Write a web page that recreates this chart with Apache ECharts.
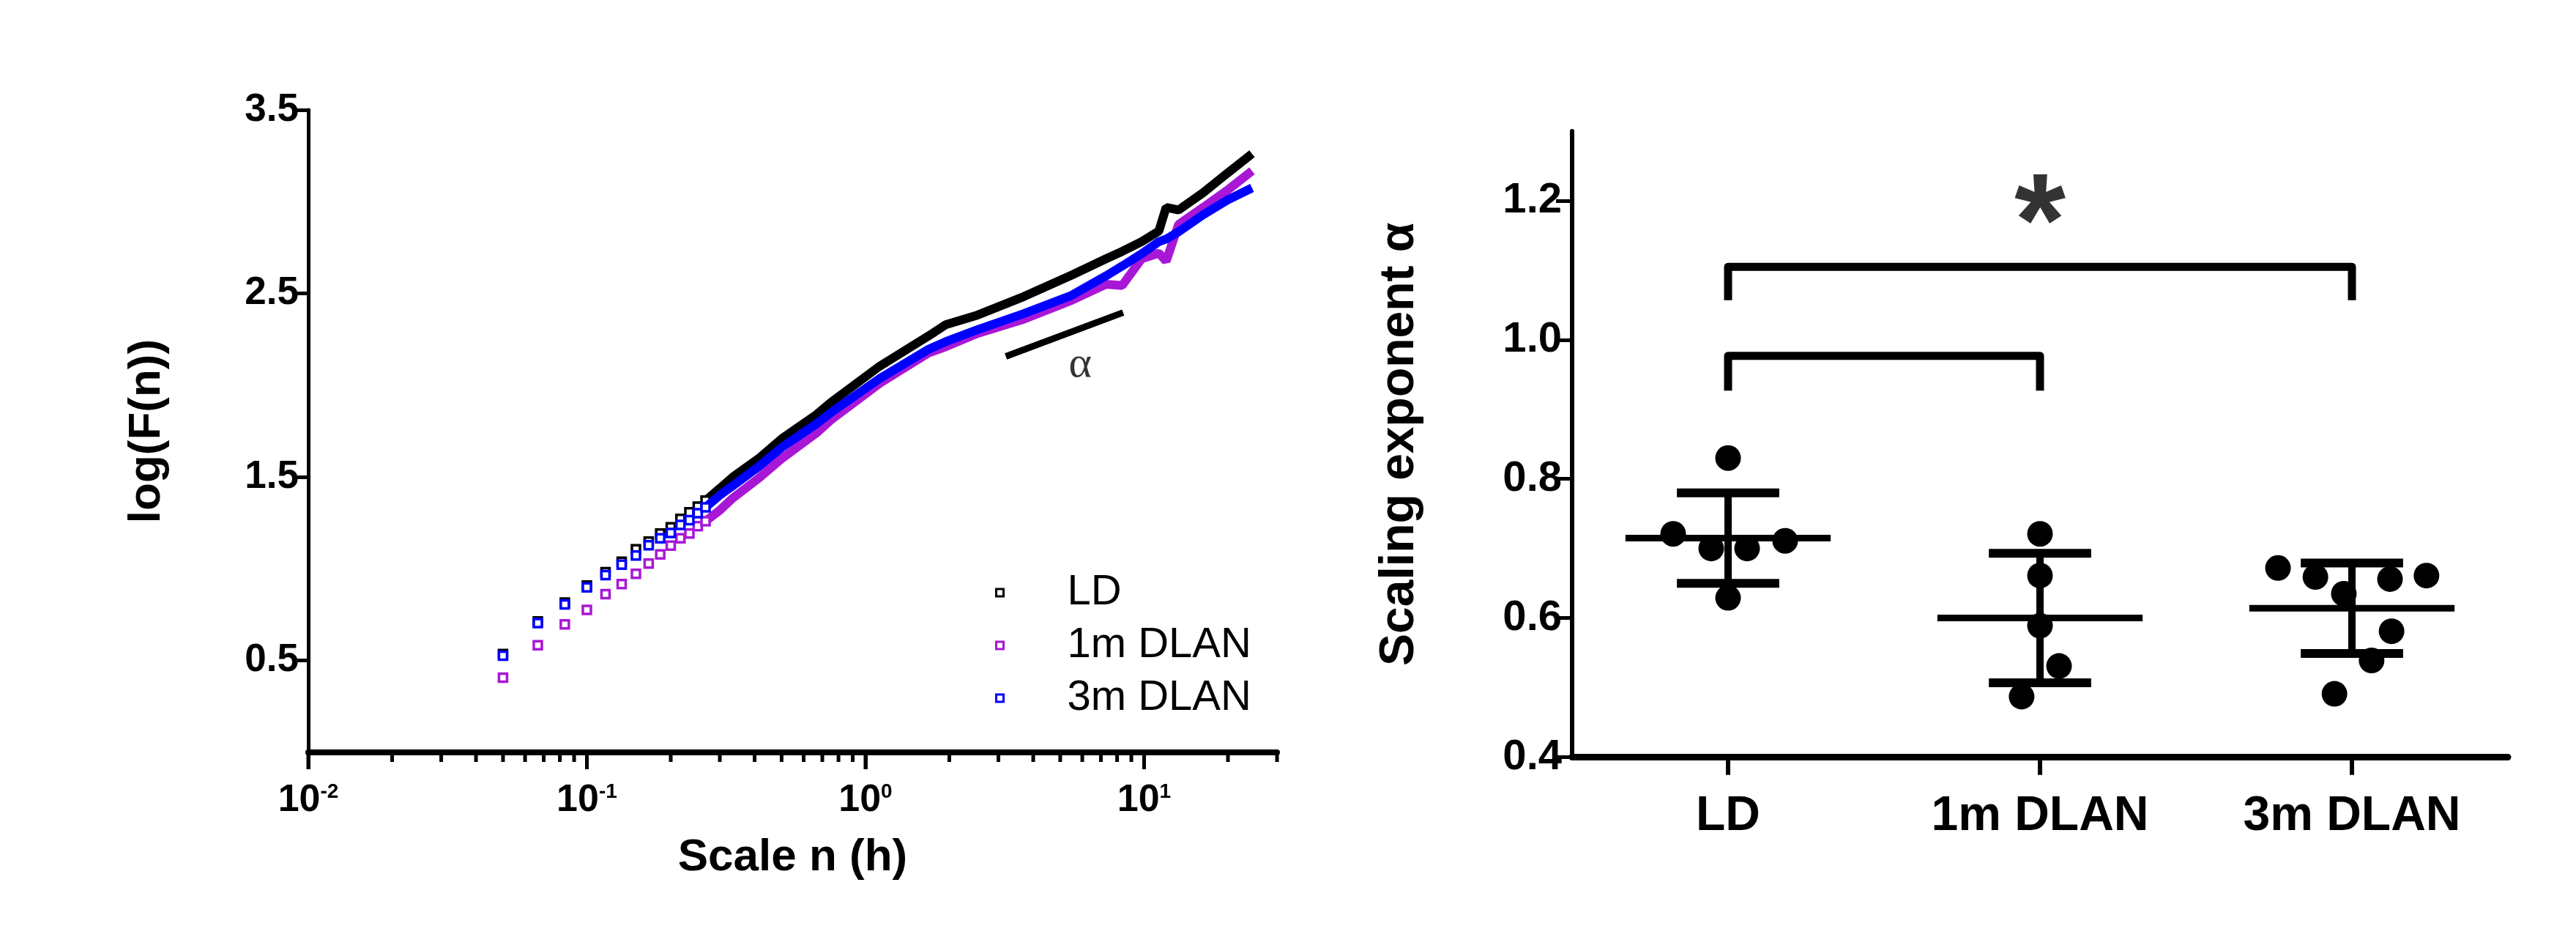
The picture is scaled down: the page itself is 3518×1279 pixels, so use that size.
<!DOCTYPE html>
<html>
<head>
<meta charset="utf-8">
<script src="https://cdn.jsdelivr.net/npm/echarts@6/dist/echarts.min.js"></script>
<style>
  html, body { margin: 0; padding: 0; background: #fff; }
  #chart { width: 3518px; height: 1279px; }
</style>
</head>
<body>
<div id="chart"></div>
<script>
// left panel: DFA fluctuation curves, log(F(n)) against scale n (hours)
const seriesNames = ['LD', '1m DLAN', '3m DLAN']
const seriesColors = ['#000000', '#a817d6', '#0000ff']

// short scales, one point per minute
const scaleMinutes = [3, 4, 5, 6, 7, 8, 9, 10, 11, 12, 13, 14, 15, 16]
const ldShort = [0.536, 0.713, 0.816, 0.909, 0.982, 1.039, 1.106, 1.148, 1.192, 1.226, 1.272, 1.308, 1.339, 1.372]
const dlan1Short = [0.407, 0.584, 0.697, 0.776, 0.862, 0.917, 0.973, 1.029, 1.079, 1.126, 1.166, 1.192, 1.232, 1.259]
const dlan3Short = [0.527, 0.704, 0.806, 0.899, 0.966, 1.023, 1.073, 1.128, 1.166, 1.195, 1.239, 1.265, 1.303, 1.335]

// longer scales (h), where the points merge into a band
const scaleLong = [0.3, 0.334, 0.417, 0.5, 0.667, 0.75, 1.125, 1.69, 1.94, 2.53, 3.7, 5.5, 7.3, 8.34, 9.8, 11.3, 12.0, 13.3, 16.3, 19.9, 24.4]
const ldLong = [1.438, 1.50, 1.605, 1.708, 1.84, 1.905, 2.104, 2.270, 2.330, 2.383, 2.483, 2.60, 2.689, 2.729, 2.782, 2.84, 2.969, 2.955, 3.049, 3.155, 3.261]
const dlan1Long = [1.319, 1.385, 1.498, 1.60, 1.74, 1.81, 2.011, 2.177, 2.210, 2.283, 2.36, 2.463, 2.55, 2.543, 2.689, 2.72, 2.676, 2.876, 2.969, 3.062, 3.168]
const dlan3Long = [1.401, 1.452, 1.561, 1.661, 1.79, 1.85, 2.037, 2.197, 2.237, 2.303, 2.39, 2.49, 2.596, 2.649, 2.716, 2.782, 2.796, 2.836, 2.929, 3.009, 3.075]

const logFTicks = [0.5, 1.5, 2.5, 3.5]
const scaleMin = 0.01
const scaleMax = 30
const scaleMajorTicks = [0.01, 0.1, 1, 10]
const scaleMinorTicks = [0.02, 0.03, 0.04, 0.05, 0.06, 0.07, 0.08, 0.09,
  0.2, 0.3, 0.4, 0.5, 0.6, 0.7, 0.8, 0.9, 2, 3, 4, 5, 6, 7, 8, 9, 20, 30]

// slope marker and its label (data coordinates)
const alphaLine = [[3.19, 2.157], [8.41, 2.396]]
const alphaLabelAt = [5.9, 2.11]

// right panel: scaling exponent per animal
const groups = ['LD', '1m DLAN', '3m DLAN']
const ldAlpha = [0.830, 0.721, 0.700, 0.700, 0.711, 0.629]
const ldSpread = [0, -0.176, -0.054, 0.061, 0.183, 0]
const dlan1Alpha = [0.721, 0.661, 0.589, 0.531, 0.487]
const dlan1Spread = [0, 0, 0, 0.061, -0.059]
const dlan3Alpha = [0.672, 0.659, 0.635, 0.656, 0.661, 0.581, 0.539, 0.491]
const dlan3Spread = [-0.237, -0.117, -0.026, 0.122, 0.239, 0.127, 0.063, -0.056]
const groupMean = [0.715, 0.600, 0.614]
const groupSD = [0.065, 0.093, 0.065]
const alphaMin = 0.4
const alphaMax = 1.3
const alphaTicks = [0.4, 0.6, 0.8, 1.0, 1.2]

// significance brackets (group index, alpha)
const bracketLong = [[0, 1.057], [0, 1.105], [2, 1.105], [2, 1.057]]
const bracketShort = [[0, 0.927], [0, 0.977], [1, 0.977], [1, 0.927]]
const starAt = [1, 1.160]

const FONT = '"Liberation Sans", Arial, sans-serif'

function pairs(xs, ys) {
  return xs.map(function (x, i) { return [x, ys[i]] })
}

let shortSets = [ldShort, dlan1Short, dlan3Short]
let longSets = [ldLong, dlan1Long, dlan3Long]
let scaleShort = scaleMinutes.map(function (m) { return m / 60 })

// bottom-axis tick marks, placed through the axis scale (value, length in px)
function tickRenderer(baseValue, width) {
  return function (params, api) {
    let p = api.coord([api.value(0), baseValue])
    let len = api.value(1)
    return {
      type: 'line',
      shape: { x1: p[0], y1: p[1], x2: p[0], y2: p[1] + len },
      style: { stroke: '#000', lineWidth: width }
    }
  }
}

let leftSeries = []
shortSets.forEach(function (vals, i) {
  leftSeries.push({
    name: seriesNames[i],
    type: 'scatter',
    xAxisIndex: 0,
    yAxisIndex: 0,
    symbol: 'rect',
    symbolSize: 11,
    itemStyle: { color: '#ffffff', borderColor: seriesColors[i], borderWidth: 3.5, opacity: 1 },
    data: pairs(scaleShort, vals),
    z: 3 + i
  })
})
longSets.forEach(function (vals, i) {
  let first = [[scaleShort[scaleShort.length - 1], shortSets[i][shortSets[i].length - 1]]]
  leftSeries.push({
    name: seriesNames[i],
    type: 'line',
    xAxisIndex: 0,
    yAxisIndex: 0,
    showSymbol: false,
    lineStyle: { color: seriesColors[i], width: 12 },
    itemStyle: { color: seriesColors[i] },
    data: first.concat(pairs(scaleLong, vals)),
    z: 3 + i
  })
})
leftSeries.push({
  type: 'line',
  xAxisIndex: 0,
  yAxisIndex: 0,
  showSymbol: false,
  lineStyle: { color: '#000', width: 9 },
  data: alphaLine,
  z: 8
})
leftSeries.push({
  type: 'scatter',
  xAxisIndex: 0,
  yAxisIndex: 0,
  symbolSize: 0,
  data: [alphaLabelAt],
  label: {
    show: true, position: 'inside', formatter: 'α',
    fontFamily: '"Liberation Serif", "DejaVu Serif", serif', fontSize: 60, color: '#000'
  },
  z: 8
})
leftSeries.push({
  type: 'custom',
  xAxisIndex: 0,
  yAxisIndex: 0,
  clip: false,
  silent: true,
  renderItem: tickRenderer(0, 5),
  data: scaleMajorTicks.map(function (v) { return [v, 23] })
    .concat(scaleMinorTicks.map(function (v) { return [v, 13] })),
  z: 10
})

let dotSets = [[ldAlpha, ldSpread], [dlan1Alpha, dlan1Spread], [dlan3Alpha, dlan3Spread]]
let dots = []
dotSets.forEach(function (set, g) {
  set[0].forEach(function (v, j) { dots.push([g + set[1][j], v]) })
})

const meanHalf = 0.329
const capHalf = 0.164

function renderErrorBar(params, api) {
  let g = api.value(0), m = api.value(1), s = api.value(2)
  let c = api.coord([g, m])
  let hi = api.coord([g, m + s])
  let lo = api.coord([g, m - s])
  let mw = api.size([meanHalf, 0])[0]
  let cw = api.size([capHalf, 0])[0]
  return {
    type: 'group',
    children: [
      { type: 'line', shape: { x1: c[0] - mw, y1: c[1], x2: c[0] + mw, y2: c[1] }, style: { stroke: '#000', lineWidth: 9 } },
      { type: 'line', shape: { x1: hi[0], y1: hi[1], x2: lo[0], y2: lo[1] }, style: { stroke: '#000', lineWidth: 10 } },
      { type: 'line', shape: { x1: hi[0] - cw, y1: hi[1], x2: hi[0] + cw, y2: hi[1] }, style: { stroke: '#000', lineWidth: 12 } },
      { type: 'line', shape: { x1: lo[0] - cw, y1: lo[1], x2: lo[0] + cw, y2: lo[1] }, style: { stroke: '#000', lineWidth: 12 } }
    ]
  }
}

let rightSeries = [
  {
    type: 'scatter',
    xAxisIndex: 1,
    yAxisIndex: 1,
    symbol: 'circle',
    symbolSize: 35,
    itemStyle: { color: '#000', opacity: 1 },
    data: dots,
    z: 3
  },
  {
    type: 'custom',
    xAxisIndex: 1,
    yAxisIndex: 1,
    renderItem: renderErrorBar,
    data: groupMean.map(function (m, g) { return [g, m, groupSD[g]] }),
    z: 4
  },
  {
    type: 'line',
    xAxisIndex: 1,
    yAxisIndex: 1,
    showSymbol: false,
    lineStyle: { color: '#000', width: 11, join: 'round' },
    data: bracketLong,
    z: 4
  },
  {
    type: 'line',
    xAxisIndex: 1,
    yAxisIndex: 1,
    showSymbol: false,
    lineStyle: { color: '#000', width: 11, join: 'round' },
    data: bracketShort,
    z: 4
  },
  {
    type: 'scatter',
    xAxisIndex: 1,
    yAxisIndex: 1,
    symbolSize: 0,
    data: [starAt],
    label: {
      show: true, position: 'inside', formatter: '*',
      fontFamily: FONT, fontWeight: 'bold', fontSize: 180, color: '#000'
    },
    z: 5
  },
  {
    type: 'custom',
    xAxisIndex: 1,
    yAxisIndex: 1,
    clip: false,
    silent: true,
    renderItem: tickRenderer(alphaMin, 6),
    data: groups.map(function (name, g) { return [g, 24] }),
    z: 10
  }
]

let option = {
  backgroundColor: '#ffffff',
  animation: false,
  textStyle: { fontFamily: FONT, color: '#000' },
  grid: [
    { left: 421, top: 150, width: 1323, height: 877 },
    { left: 2147, top: 179, width: 1278, height: 854.5 }
  ],
  legend: {
    orient: 'vertical',
    left: 1354,
    top: 775,
    itemWidth: 10,
    itemHeight: 10,
    itemGap: 14,
    textStyle: { fontFamily: FONT, fontSize: 58, lineHeight: 58, color: '#000', padding: [0, 0, 0, 82] },
    data: seriesNames.map(function (n, i) {
      return { name: n, icon: 'rect', itemStyle: { color: '#fff', borderColor: seriesColors[i], borderWidth: 3, opacity: 1 } }
    })
  },
  xAxis: [
    {
      type: 'log',
      gridIndex: 0,
      position: 'bottom',
      logBase: 10,
      min: scaleMin,
      max: scaleMax,
      name: 'Scale n (h)',
      nameLocation: 'middle',
      nameGap: 144,
      nameTextStyle: { fontFamily: FONT, fontWeight: 'bold', fontSize: 62, color: '#000', verticalAlign: 'middle' },
      axisLine: { show: true, onZero: false, lineStyle: { color: '#000', width: 8 } },
      axisTick: { show: true, length: 23, lineStyle: { color: '#000', width: 5 }, customValues: scaleMajorTicks },
      splitLine: { show: false },
      axisLabel: {
        customValues: scaleMajorTicks,
        margin: 66,
        verticalAlign: 'middle',
        formatter: function (v) {
          return '{b|10}{s|' + Math.round(Math.log10(v)) + '}'
        },
        rich: {
          b: { fontFamily: FONT, fontWeight: 'bold', fontSize: 52, lineHeight: 52, color: '#000' },
          s: { fontFamily: FONT, fontWeight: 'bold', fontSize: 28, lineHeight: 52, verticalAlign: 'top', color: '#000' }
        }
      }
    },
    {
      type: 'value',
      gridIndex: 1,
      position: 'bottom',
      min: -0.5,
      max: 2.5,
      axisLine: { show: true, onZero: false, lineStyle: { color: '#000', width: 9 } },
      axisTick: { show: true, length: 24, lineStyle: { color: '#000', width: 6 }, customValues: [0, 1, 2] },
      splitLine: { show: false },
      axisLabel: {
        customValues: [0, 1, 2],
        margin: 81,
        verticalAlign: 'middle',
        fontFamily: FONT, fontWeight: 'bold', fontSize: 66, color: '#000',
        formatter: function (v) { return groups[Math.round(v)] }
      }
    }
  ],
  yAxis: [
    {
      type: 'value',
      gridIndex: 0,
      position: 'left',
      min: 0,
      max: 3.5,
      name: 'log(F(n))',
      nameLocation: 'middle',
      nameGap: 220,
      nameTextStyle: { fontFamily: FONT, fontWeight: 'bold', fontSize: 62, color: '#000', verticalAlign: 'middle' },
      axisLine: { show: true, onZero: false, lineStyle: { color: '#000', width: 5 } },
      axisTick: { show: true, length: 19, lineStyle: { color: '#000', width: 5 }, customValues: logFTicks },
      splitLine: { show: false },
      axisLabel: {
        customValues: logFTicks,
        margin: 13,
        fontFamily: FONT, fontWeight: 'bold', fontSize: 53, color: '#000',
        formatter: function (v) { return v.toFixed(1) }
      }
    },
    {
      type: 'value',
      gridIndex: 1,
      position: 'left',
      min: alphaMin,
      max: alphaMax,
      name: 'Scaling exponent α',
      nameLocation: 'middle',
      nameGap: 235,
      nameTextStyle: { fontFamily: FONT, fontWeight: 'bold', fontSize: 66, color: '#000', verticalAlign: 'middle' },
      axisLine: { show: true, onZero: false, lineStyle: { color: '#000', width: 6 } },
      axisTick: { show: true, length: 22, lineStyle: { color: '#000', width: 5 }, customValues: alphaTicks },
      splitLine: { show: false },
      axisLabel: {
        customValues: alphaTicks,
        margin: 14,
        fontFamily: FONT, fontWeight: 'bold', fontSize: 58, color: '#000',
        formatter: function (v) { return v.toFixed(1) }
      }
    }
  ],
  series: leftSeries.concat(rightSeries)
}

let chart = echarts.init(document.getElementById('chart'))
chart.setOption(option)
</script>
</body>
</html>
